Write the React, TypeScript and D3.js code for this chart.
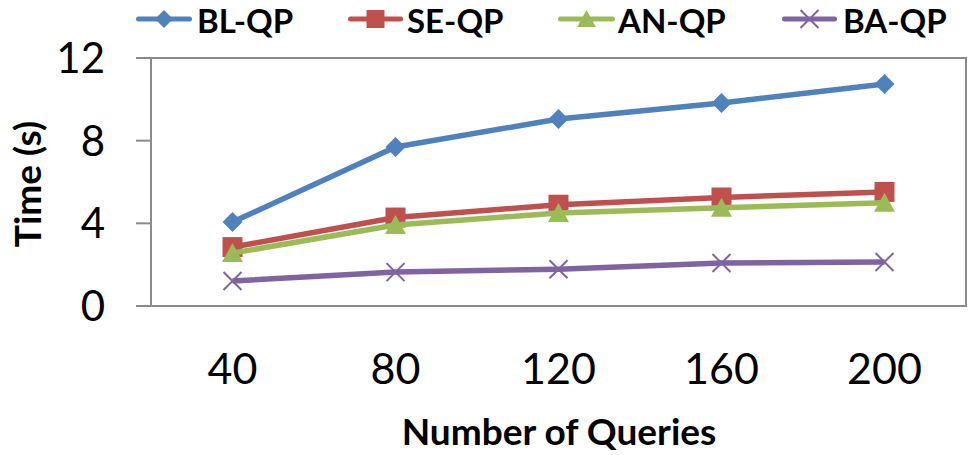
import React, { useEffect, useRef } from 'react';
import * as d3 from 'd3';

const categories = ['40', '80', '120', '160', '200'];
const yTicks = [0, 4, 8, 12];

const seriesNames = ['BL-QP', 'SE-QP', 'AN-QP', 'BA-QP'];
const blValues = [4.06, 7.69, 9.05, 9.82, 10.74];
const seValues = [2.85, 4.28, 4.9, 5.25, 5.52];
const anValues = [2.56, 3.92, 4.5, 4.76, 4.99];
const baValues = [1.21, 1.64, 1.78, 2.08, 2.13];

const colors = ['#4F81BD', '#C0504D', '#9BBB59', '#8064A2'];
const markers = ['diamond', 'square', 'triangle', 'x'];

// marker shape around (0,0)
const markerPath = (type: string, s: number) => {
  const p = d3.path();
  if (type === 'diamond') {
    p.moveTo(0, -s); p.lineTo(s, 0); p.lineTo(0, s); p.lineTo(-s, 0); p.closePath();
  } else if (type === 'square') {
    p.rect(-s, -s, 2 * s, 2 * s);
  } else if (type === 'triangle') {
    p.moveTo(0, -s); p.lineTo(s * 1.05, s * 0.9); p.lineTo(-s * 1.05, s * 0.9); p.closePath();
  } else {
    p.moveTo(-s, -s); p.lineTo(s, s); p.moveTo(s, -s); p.lineTo(-s, s);
  }
  return p.toString();
};

const App = () => {
  const svgRef = useRef<SVGSVGElement | null>(null);

  useEffect(() => {
    document.body.style.margin = '0';
    const svg = d3.select(svgRef.current);
    svg.selectAll('*').remove();

    const width = 976;
    const height = 455;
    const plot = { left: 151, right: 966, top: 58, bottom: 306 };
    const font = 'Lato, "Open Sans", sans-serif';

    const x = d3.scaleBand<string>()
      .domain(categories)
      .range([plot.left, plot.right])
      .padding(0);
    const cx = (c: string) => (x(c) as number) + x.bandwidth() / 2;

    const y = d3.scaleLinear()
      .domain([0, 12])
      .range([plot.bottom, plot.top]);

    svg.append('rect')
      .attr('width', width)
      .attr('height', height)
      .attr('fill', '#fff');

    // plot area frame
    svg.append('rect')
      .attr('x', plot.left)
      .attr('y', plot.top)
      .attr('width', plot.right - plot.left)
      .attr('height', plot.bottom - plot.top)
      .attr('fill', 'none')
      .attr('stroke', '#8a8a8a')
      .attr('stroke-width', 2);

    // y axis ticks + labels
    const yAxis = svg.append('g');
    yAxis.selectAll('line')
      .data(yTicks)
      .enter().append('line')
      .attr('x1', plot.left - 15)
      .attr('x2', plot.left)
      .attr('y1', d => y(d))
      .attr('y2', d => y(d))
      .attr('stroke', '#8a8a8a')
      .attr('stroke-width', 2);
    yAxis.selectAll('text')
      .data(yTicks)
      .enter().append('text')
      .attr('x', 105)
      .attr('y', d => y(d))
      .attr('dy', '0.36em')
      .attr('text-anchor', 'end')
      .attr('font-family', font)
      .attr('font-size', 42)
      .attr('fill', '#000')
      .text(d => String(d));

    // x labels
    svg.append('g').selectAll('text')
      .data(categories)
      .enter().append('text')
      .attr('x', d => cx(d))
      .attr('y', 384)
      .attr('text-anchor', 'middle')
      .attr('font-family', font)
      .attr('font-size', 43)
      .attr('fill', '#000')
      .text(d => d);

    // axis titles
    svg.append('text')
      .attr('x', 559)
      .attr('y', 445)
      .attr('text-anchor', 'middle')
      .attr('font-family', font)
      .attr('font-weight', 'bold')
      .attr('font-size', 37)
      .attr('fill', '#000')
      .text('Number of Queries');

    svg.append('text')
      .attr('transform', 'translate(41,184) rotate(-90)')
      .attr('text-anchor', 'middle')
      .attr('font-family', font)
      .attr('font-weight', 'bold')
      .attr('font-size', 37)
      .attr('fill', '#000')
      .text('Time (s)');

    // series
    const allValues = [blValues, seValues, anValues, baValues];
    const line = d3.line<number>()
      .x((_, i) => cx(categories[i]))
      .y(d => y(d));

    allValues.forEach((vals, si) => {
      const g = svg.append('g');
      g.append('path')
        .datum(vals)
        .attr('fill', 'none')
        .attr('stroke', colors[si])
        .attr('stroke-width', 5.5)
        .attr('stroke-linejoin', 'round')
        .attr('d', line);

      const isX = markers[si] === 'x';
      g.selectAll('path.marker')
        .data(vals)
        .enter().append('path')
        .attr('class', 'marker')
        .attr('transform', (d, i) => `translate(${cx(categories[i])},${y(d)})`)
        .attr('d', markerPath(markers[si], isX ? 9 : 10))
        .attr('fill', isX ? 'none' : colors[si])
        .attr('stroke', colors[si])
        .attr('stroke-width', isX ? 2 : 0);
    });

    // legend
    const legendItems = [
      { x0: 136, x1: 192, tx: 197 },
      { x0: 348, x1: 403, tx: 407 },
      { x0: 558, x1: 615, tx: 618 },
      { x0: 782, x1: 837, tx: 843 },
    ];
    const legend = svg.append('g');
    legendItems.forEach((it, i) => {
      const mid = (it.x0 + it.x1) / 2;
      legend.append('line')
        .attr('x1', it.x0 + 2.5)
        .attr('x2', it.x1 - 2.5)
        .attr('y1', 19)
        .attr('y2', 19)
        .attr('stroke', colors[i])
        .attr('stroke-width', 5)
        .attr('stroke-linecap', 'round');
      const isX = markers[i] === 'x';
      legend.append('path')
        .attr('transform', `translate(${mid},19)`)
        .attr('d', markerPath(markers[i], 9))
        .attr('fill', isX ? 'none' : colors[i])
        .attr('stroke', colors[i])
        .attr('stroke-width', isX ? 2 : 0);
      legend.append('text')
        .attr('x', it.tx)
        .attr('y', 33)
        .attr('font-family', font)
        .attr('font-weight', 'bold')
        .attr('font-size', 33)
        .attr('fill', '#000')
        .text(seriesNames[i]);
    });
  }, []);

  return <svg ref={svgRef} width={976} height={455} style={{ display: 'block' }} />;
};

export default App;
